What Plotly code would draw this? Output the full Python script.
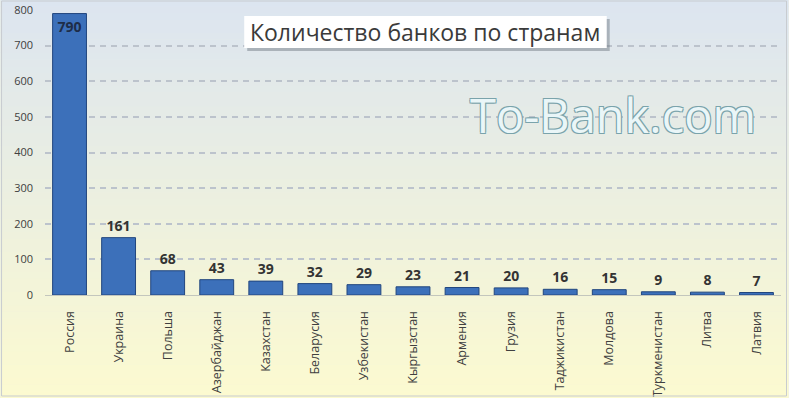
import plotly.graph_objects as go

countries = ["Россия", "Украина", "Польша", "Азербайджан", "Казахстан", "Беларусия",
             "Узбекистан", "Кыргызстан", "Армения", "Грузия", "Таджикистан", "Молдова",
             "Туркменистан", "Литва", "Латвия"]
banks = [790, 161, 68, 43, 39, 32, 29, 23, 21, 20, 16, 15, 9, 8, 7]
y_ticks = [0, 100, 200, 300, 400, 500, 600, 700, 800]

W, H = 789, 398
ML, MR, MT, MB = 44.5, 7.5, 10, 103
PW = W - ML - MR
PH = H - MT - MB

def px_x(p):
    return (p - ML) / PW

def px_y(p):
    return (H - MB - p) / PH

positions = ["inside" if v == max(banks) else "outside" for v in banks]

fig = go.Figure()
fig.add_trace(go.Bar(
    x=countries, y=banks,
    text=[str(v) for v in banks],
    textposition=positions,
    insidetextanchor="end",
    outsidetextfont=dict(family="Open Sans", size=14, color="#333333", weight="bold"),
    insidetextfont=dict(family="Open Sans", size=14, color="#1e2d48", weight="bold"),
    marker=dict(color="#3c70ba", line=dict(color="#22467e", width=1)),
    cliponaxis=False,
))

# gradient background bands
shapes = []
n = 60
top = (220, 229, 240)
bot = (252, 250, 208)
y0p = px_y(H)
y1p = px_y(0)
for i in range(n):
    t = i / (n - 1)
    c = tuple(int(round(bot[k] + (top[k] - bot[k]) * t)) for k in range(3))
    ya = y0p + (y1p - y0p) * i / n
    yb = y0p + (y1p - y0p) * (i + 1) / n
    shapes.append(dict(type="rect", xref="paper", yref="paper",
                       x0=px_x(0), x1=px_x(W), y0=ya, y1=yb + 0.002,
                       fillcolor="rgb(%d,%d,%d)" % c, line=dict(width=0), layer="below"))
# outer border
shapes.append(dict(type="rect", xref="paper", yref="paper",
                   x0=px_x(1), x1=px_x(W - 2), y0=px_y(H - 2), y1=px_y(1),
                   line=dict(color="#c8ccd0", width=1), fillcolor="rgba(0,0,0,0)", layer="above"))
# title box shadow + box
shapes.append(dict(type="rect", xref="paper", yref="paper",
                   x0=px_x(247), x1=px_x(610), y0=px_y(51), y1=px_y(19),
                   fillcolor="rgba(90,100,110,0.4)", line=dict(width=0), layer="above"))
shapes.append(dict(type="rect", xref="paper", yref="paper",
                   x0=px_x(244), x1=px_x(607), y0=px_y(48), y1=px_y(16),
                   fillcolor="white", line=dict(width=0), layer="above"))

fig.update_layout(
    width=W, height=H,
    margin=dict(l=ML, r=MR, t=MT, b=MB, pad=0, autoexpand=False),
    paper_bgcolor="#eef0e6",
    plot_bgcolor="rgba(0,0,0,0)",
    showlegend=False,
    bargap=0.31,
    shapes=shapes,
    font=dict(family="Open Sans", color="#404040"),
    annotations=[
        dict(text="Количество банков по странам", xref="paper", yref="paper",
             x=px_x(425.5), y=px_y(32), xanchor="center", yanchor="middle",
             showarrow=False, font=dict(family="Open Sans", size=23, color="#3a3a3a")),
        dict(text="To-Bank.com", xref="paper", yref="paper",
             x=px_x(613), y=px_y(115), xanchor="center", yanchor="middle",
             showarrow=False,
             font=dict(family="Open Sans", size=47, color="#eaf6f8",
                       shadow="-1px -1px 0 #7aa3ab, 1px -1px 0 #7aa3ab, -1px 1px 0 #7aa3ab, 1px 1px 0 #7aa3ab")),
    ],
)
fig.update_yaxes(range=[0, 800], tickvals=y_ticks, showgrid=True, automargin=False,
                 gridcolor="#bcc3cc", griddash="6px,5px", gridwidth=1.5,
                 zeroline=False, showline=False, ticks="",
                 tickfont=dict(family="Open Sans", size=11, color="#404040"),
                 ticklabelstandoff=11)
fig.update_xaxes(tickangle=-90, showline=True, linecolor="#c3c6bd", linewidth=1,
                 automargin=False, ticks="",
                 tickfont=dict(family="Open Sans", size=12.5, color="#404040"),
                 ticklabelstandoff=10)

fig.write_html("out.html", config={"displayModeBar": False},
               post_script="document.body.style.margin='0';document.body.style.overflow='hidden';")
